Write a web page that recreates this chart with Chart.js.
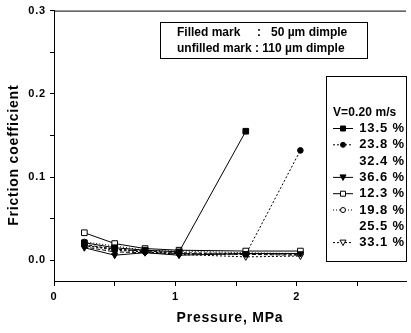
<!DOCTYPE html>
<html>
<head>
<meta charset="utf-8">
<script src="https://cdn.jsdelivr.net/npm/chart.js@4.4.0/dist/chart.umd.min.js"></script>
<style>
  html, body { margin: 0; padding: 0; background: #fff; }
  #wrap { width: 411px; height: 333px; }
</style>
</head>
<body>
<div id="wrap"><canvas id="chart"></canvas></div>
<script>
// pressure values (MPa) where friction was measured
const pressure = [0.25, 0.5, 0.75, 1.03, 1.58, 2.03];

// friction coefficient per dimple density
const f135 = [0.021, 0.015, 0.012, 0.010, 0.155];
const f238 = [0.018, 0.012, 0.010, 0.008, 0.007, 0.132];
const f324 = [0.016, 0.010, 0.009, 0.008, 0.007, 0.006];
const f366 = [0.015, 0.006, 0.009, 0.006, 0.008, 0.008];
const f123 = [0.033, 0.020, 0.014, 0.012, 0.011, 0.011];
const f198 = [0.022, 0.017, 0.012, 0.011, 0.009, 0.008];
const f255 = [0.019, 0.013, 0.011, 0.009, 0.008, 0.007];
const f331 = [0.017, 0.014, 0.010, 0.007, 0.004, 0.005];

const seriesLabels = ["13.5 %", "23.8 %", "32.4 %", "36.6 %", "12.3 %", "19.8 %", "25.5 %", "33.1 %"];
const legendTitle = "V=0.20 m/s";
const noteLines = ["Filled mark     :   50 \u00b5m dimple", "unfilled mark : 110 \u00b5m dimple"];

const xTicks = [0, 0.5, 1, 1.5, 2, 2.5];
const yTicks = [0, 0.05, 0.1, 0.15, 0.2, 0.25, 0.3];

const FONT = "'Liberation Sans', Arial, sans-serif";

function pts(ys) {
  return ys.map((y, i) => ({ x: pressure[i], y: y }));
}

// style per series: marker, fill, dash
const styles = [
  { style: "rect", fill: true, dash: [], r: 4 },
  { style: "circle", fill: true, dash: [2, 2], r: 2.8 },
  { style: false, fill: true, dash: [4, 2], r: 0 },
  { style: "triangle", fill: true, dash: [], r: 3.5, rot: 180 },
  { style: "rect", fill: false, dash: [], r: 4 },
  { style: "circle", fill: false, dash: [1, 2], r: 2.8 },
  { style: false, fill: false, dash: [3, 2], r: 0 },
  { style: "triangle", fill: false, dash: [2, 2], r: 3.5, rot: 180 }
];
const values = [f135, f238, f324, f366, f123, f198, f255, f331];

const datasets = values.map((v, i) => ({
  label: seriesLabels[i],
  data: pts(v),
  showLine: true,
  borderColor: "#000",
  borderWidth: 1,
  borderDash: styles[i].dash,
  pointStyle: styles[i].style || "circle",
  pointRadius: styles[i].r,
  pointRotation: styles[i].rot || 0,
  pointBackgroundColor: styles[i].fill ? "#000" : "#fff",
  pointBorderColor: "#000",
  pointBorderWidth: 1,
  order: styles[i].fill ? 0 : 1
}));

function drawMarker(ctx, s, x, y) {
  if (!s.style) return;
  ctx.save();
  ctx.setLineDash([]);
  ctx.lineWidth = 1;
  ctx.strokeStyle = "#000";
  ctx.fillStyle = s.fill ? "#000" : "#fff";
  ctx.beginPath();
  if (s.style === "rect") {
    ctx.rect(x - 2.5, y - 2.5, 5, 5);
  } else if (s.style === "circle") {
    ctx.arc(x, y, 2.5, 0, Math.PI * 2);
  } else {
    ctx.moveTo(x - 3, y - 2.5);
    ctx.lineTo(x + 3, y - 2.5);
    ctx.lineTo(x, y + 3);
    ctx.closePath();
  }
  ctx.fill();
  ctx.stroke();
  ctx.restore();
}

const boxes = {
  id: "boxes",
  beforeDraw(chart) {
    // the scanned original uses a wider typeface
    chart.ctx.letterSpacing = "0.8px";
  },
  afterDraw(chart) {
    const ctx = chart.ctx;
    const a = chart.chartArea;
    ctx.save();
    // top frame line
    ctx.strokeStyle = "#000";
    ctx.lineWidth = 1;
    ctx.beginPath();
    ctx.moveTo(a.left, a.top + 0.5);
    ctx.lineTo(a.right, a.top + 0.5);
    ctx.stroke();

    // note box
    ctx.strokeRect(160.5, 22.5, 207, 36);
    ctx.fillStyle = "#000";
    ctx.letterSpacing = "0px";
    ctx.font = "bold 12px " + FONT;
    ctx.textBaseline = "middle";
    ctx.textAlign = "left";
    ctx.fillText(noteLines[0], 177, 33);
    ctx.fillText(noteLines[1], 177, 49);

    // legend box
    ctx.fillStyle = "#fff";
    ctx.fillRect(326, 76, 80, 185);
    ctx.strokeRect(326.5, 76.5, 80, 185);
    ctx.fillStyle = "#000";
    ctx.letterSpacing = "0.1px";
    ctx.font = "bold 12px " + FONT;
    ctx.fillText(legendTitle, 333, 113);
    ctx.letterSpacing = "0.9px";
    ctx.font = "bold 13px " + FONT;
    seriesLabels.forEach((lab, i) => {
      const y = 128.5 + i * 16.3;
      const s = styles[i];
      if (s.style) {
        ctx.save();
        ctx.setLineDash(s.dash);
        ctx.beginPath();
        ctx.moveTo(333, y);
        ctx.lineTo(353, y);
        ctx.stroke();
        ctx.restore();
        drawMarker(ctx, s, 343, y);
      }
      ctx.textAlign = "right";
      ctx.fillText(lab, 405, y);
    });
    ctx.restore();
  }
};

new Chart(document.getElementById("chart").getContext("2d"), {
  type: "scatter",
  data: { datasets: datasets },
  options: {
    responsive: true,
    maintainAspectRatio: false,
    animation: false,
    layout: { padding: { top: 8, right: 0, left: 0, bottom: 0 } },
    plugins: { legend: { display: false }, tooltip: { enabled: false } },
    scales: {
      x: {
        type: "linear",
        min: 0,
        max: 2.9,
        afterFit: (s) => { s.height = 52; },
        afterBuildTicks: (s) => { s.ticks = xTicks.map(v => ({ value: v })); },
        grid: { drawOnChartArea: false, color: "#000", tickLength: 5, tickWidth: 1 },
        border: { color: "#000", width: 1 },
        ticks: {
          padding: 4,
          color: "#000",
          font: { family: FONT, size: 11, weight: "bold" },
          callback: (v) => Number.isInteger(v) ? String(v) : ""
        },
        title: {
          display: true,
          text: "Pressure, MPa",
          color: "#000",
          font: { family: FONT, size: 14, weight: "bold" },
          padding: { top: 0, bottom: 6 }
        }
      },
      y: {
        min: -0.025,
        max: 0.3,
        afterFit: (s) => { s.width = 54; },
        afterBuildTicks: (s) => { s.ticks = yTicks.map(v => ({ value: v })); },
        grid: { drawOnChartArea: false, color: "#000", tickLength: 4, tickWidth: 1 },
        border: { color: "#000", width: 1 },
        ticks: {
          padding: 4,
          color: "#000",
          font: { family: FONT, size: 11, weight: "bold" },
          callback: (v) => Math.abs(v * 10 - Math.round(v * 10)) < 1e-6 ? v.toFixed(1) : ""
        },
        title: {
          display: true,
          text: "Friction coefficient    ",
          color: "#000",
          font: { family: FONT, size: 14, weight: "bold" },
          padding: { top: 6, bottom: 0 }
        }
      }
    }
  },
  plugins: [boxes]
});
</script>
</body>
</html>
